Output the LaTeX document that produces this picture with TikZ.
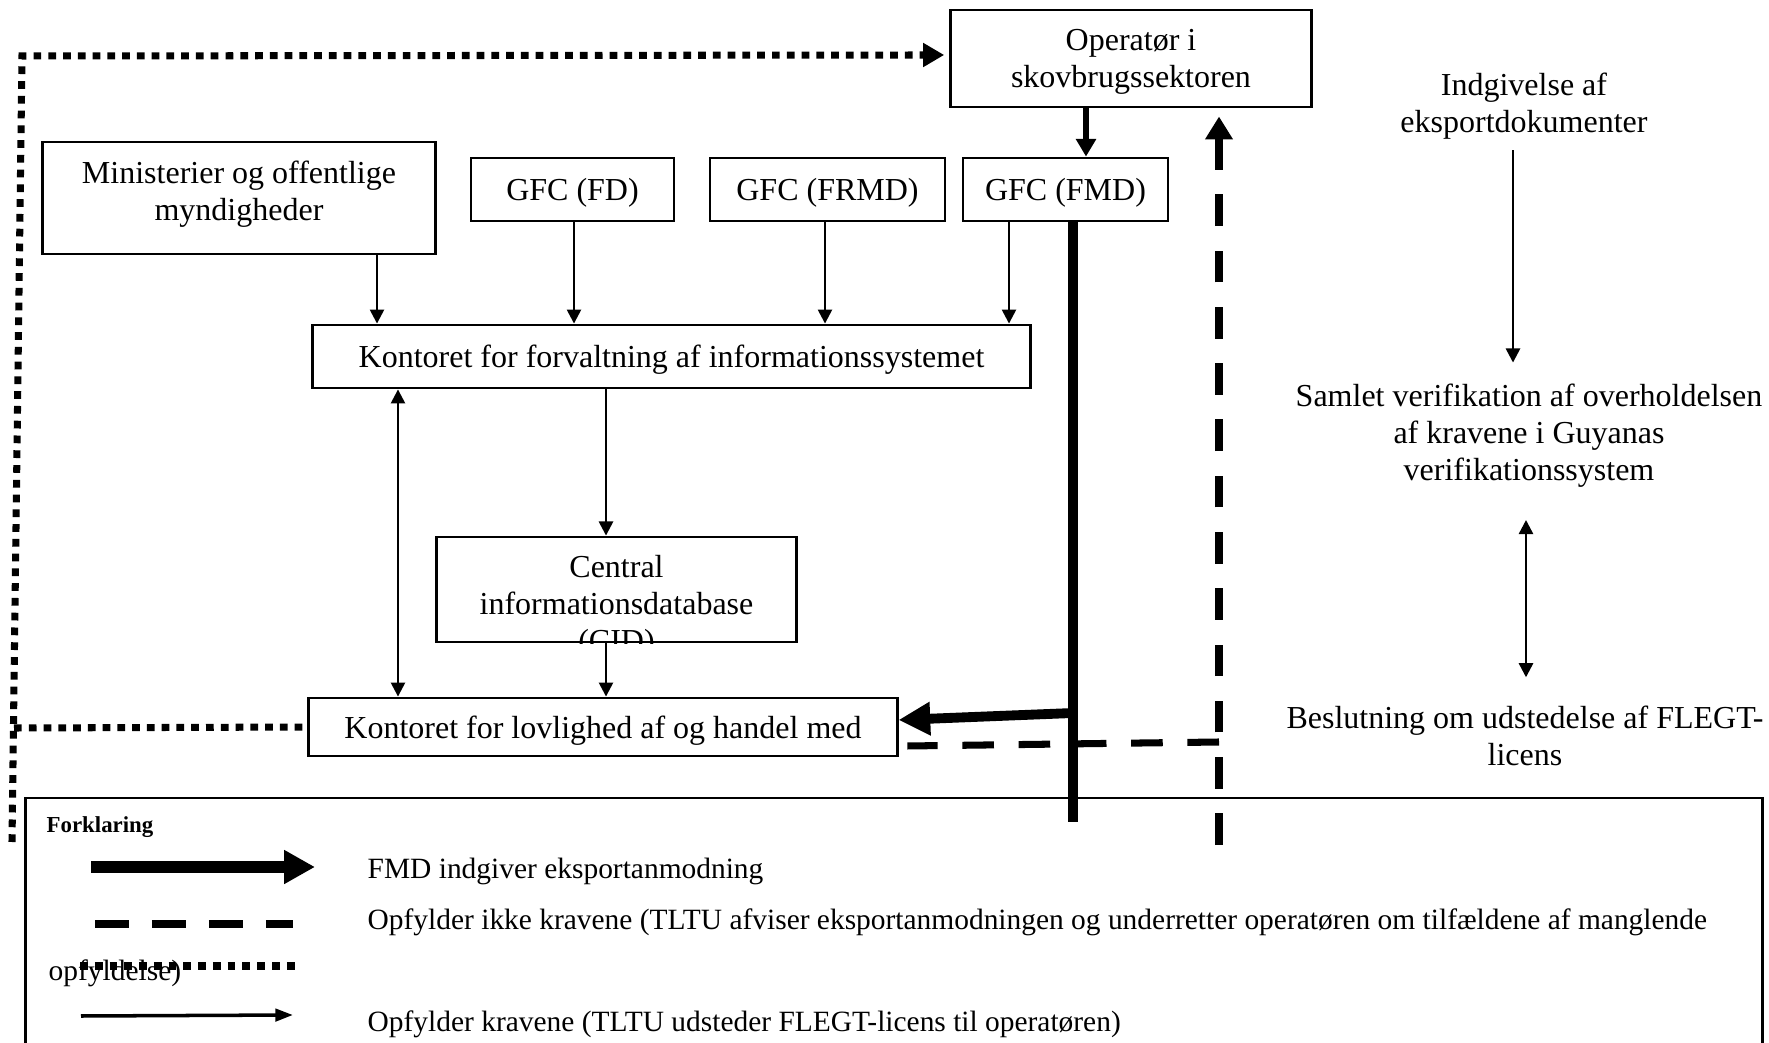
\documentclass[tikz,border=0pt]{standalone}
\usepackage{fontspec}
\setmainfont{Liberation Serif}
\usetikzlibrary{arrows.meta}

\begin{document}
\begin{tikzpicture}[x=0.01cm,y=-0.01cm,
  font=\fontsize{9.1}{10.5}\selectfont,
  box/.style={draw,line width=0.8pt,align=center,inner sep=0pt,text depth=0pt},
  plain/.style={align=center,inner sep=0pt},
  legtext/.style={anchor=west,inner sep=0pt,font=\fontsize{8.37}{10}\selectfont},
  arr/.style={line width=0.7pt,-{Triangle[length=4pt,width=4pt]}},
  dblarr/.style={line width=0.7pt,{Triangle[length=4pt,width=4pt]}-{Triangle[length=4pt,width=4pt]}},
  oparr/.style={line width=1.5pt,-{Triangle[length=5pt,width=5.5pt]}},
  fmdline/.style={line width=2.8pt},
  fmdarr/.style={line width=2.8pt,-{Triangle[length=9pt,width=9pt]}},
  rejectline/.style={line width=2pt,dash pattern=on 9pt off 7pt},
  dotline/.style={line width=2pt,dash pattern=on 2.2pt off 2pt},
]
\useasboundingbox (0,0) rectangle (1769,1043);

\node[box,minimum width=3.6cm,minimum height=0.97cm] (op) at (1131,58.5) {Operatør i\\skovbrugssektoren};
\node[box,minimum width=3.92cm,minimum height=1.12cm] (min) at (239,198) {};
\node[plain] (mintext) at (239,194) {Ministerier og offentlige\\myndigheder};
\node[box,minimum width=2.03cm,minimum height=0.63cm] (fd) at (572.5,189.5) {GFC (FD)};
\node[box,minimum width=2.35cm,minimum height=0.63cm] (frmd) at (827.5,189.5) {GFC (FRMD)};
\node[box,minimum width=2.05cm,minimum height=0.63cm] (fmd) at (1065.5,189.5) {GFC (FMD)};
\node[box,minimum width=7.17cm,minimum height=0.63cm] (ism) at (671.5,356.5) {Kontoret for forvaltning af informationssystemet};
\node[box,minimum width=3.59cm,minimum height=1.05cm] (cid) at (616.5,589.5) {};
\begin{scope}
  \clip (cid.north west) rectangle (cid.south east);
  \node[plain] (cidtext) at (616.5,607) {Central\\informationsdatabase\\(CID)};
\end{scope}
\node[box,minimum width=5.88cm,minimum height=0.58cm] (tltu) at (603,727) {Kontoret for lovlighed af og handel med};

\node[plain] (indg) at (1524,106) {Indgivelse af\\eksportdokumenter};
\node[plain] (samlet) at (1529,436) {Samlet verifikation af overholdelsen\\af kravene i Guyanas\\verifikationssystem};
\node[plain] (beslut) at (1525,736) {Beslutning om udstedelse af FLEGT-\\licens};

\draw[oparr] (1086,0 |- op.south) -- (1086,0 |- fmd.north);
\draw[arr] (377,0 |- min.south) -- (377,0 |- ism.north);
\draw[arr] (574,0 |- fd.south) -- (574,0 |- ism.north);
\draw[arr] (825,0 |- frmd.south) -- (825,0 |- ism.north);
\draw[arr] (1009,0 |- fmd.south) -- (1009,0 |- ism.north);
\draw[arr] (606,0 |- ism.south) -- (606,0 |- cid.north);
\draw[arr] (606,0 |- cid.south) -- (606,0 |- tltu.north);
\draw[dblarr] (398,0 |- ism.south) -- (398,0 |- tltu.north);

\draw[arr,shorten <=3pt,shorten >=6pt] (1513,0 |- indg.south) -- (1513,0 |- samlet.north);
\draw[dblarr,shorten <=9pt,shorten >=8pt] (1526,0 |- samlet.south) -- (1526,0 |- beslut.north);

\coordinate (fmdj) at (1073,713);
\coordinate (fmdend) at (1073,822);
\draw[fmdline] (1073,0 |- fmd.south) -- (fmdend);
\draw[fmdarr] (fmdj) -- ([yshift=2pt]tltu.east);

\coordinate (rejbot) at (1219,845);
\coordinate (rejj) at (1219,742);
\draw[rejectline,-{Triangle[length=6.5pt,width=7.5pt]},shorten >=2.3pt] (rejbot) -- (1219,0 |- op.south);
\draw[rejectline] (rejj) -- ([xshift=2.5pt,yshift=-5.4pt]tltu.east);

\coordinate (dtop) at (22,56);
\coordinate (dbot) at (12,842);
\coordinate (dmid) at (14,728);
\draw[dotline,-{Triangle[length=6pt,width=6.5pt]}] (dbot) -- (dtop) -- ([xshift=-1.5pt,yshift=1pt]op.west);
\draw[dotline] (dmid) -- (tltu.west);

\node[draw,line width=0.8pt,minimum width=17.36cm,minimum height=2.82cm] (leg) at (894,939) {};
\node[anchor=west,inner sep=0pt,font=\bfseries\fontsize{6.5}{8}\selectfont] (forkl) at (46,827) {Forklaring};
\node[legtext] (lt1) at (367,871) {FMD indgiver eksportanmodning};
\node[legtext] (lt2) at (367,922) {Opfylder ikke kravene (TLTU afviser eksportanmodningen og underretter operatøren om tilfældene af manglende};
\node[legtext] (lt2b) at (48,973) {opfyldelse)};
\node[legtext] (lt3) at (367,1024) {Opfylder kravene (TLTU udsteder FLEGT-licens til operatøren)};

\draw[line width=3.4pt,-{Triangle[length=8.8pt,width=9.1pt]}] (91,867) -- (315,867);
\draw[line width=2.3pt,dash pattern=on 9.7pt off 6.5pt] (95,924) -- (293,924);
\draw[dotline] (80,966) -- (295,966);
\draw[line width=1pt,-{Triangle[length=5pt,width=3.5pt]}] (81,1016) -- (293,1015);

\end{tikzpicture}
\end{document}
